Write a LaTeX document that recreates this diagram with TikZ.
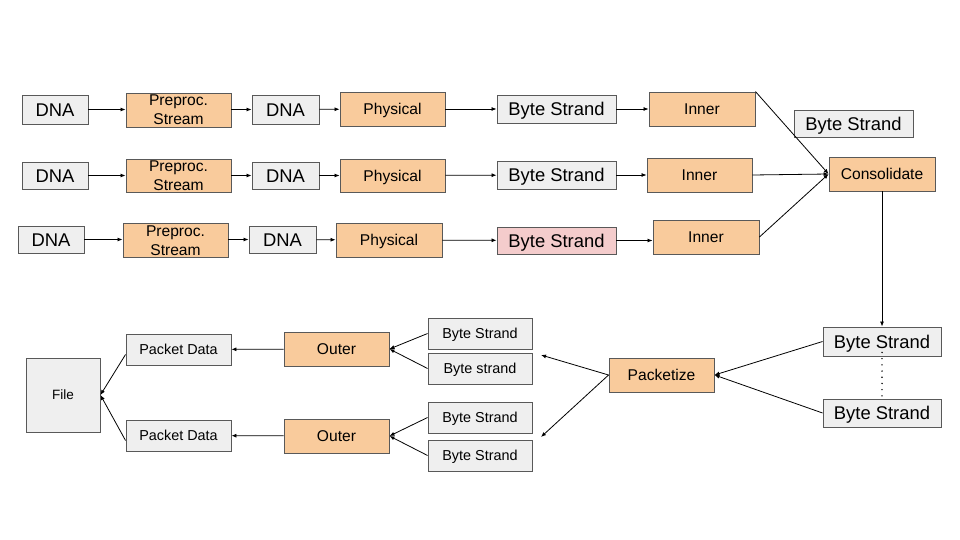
\documentclass[tikz,border=0pt]{standalone}
\usepackage{fontspec}
\setmainfont{Liberation Sans}
\usetikzlibrary{arrows.meta}
\definecolor{ofill}{HTML}{F9CB9C}
\definecolor{gfill}{HTML}{EFEFEF}
\definecolor{pfill}{HTML}{F4CCCC}
\definecolor{bcol}{HTML}{595959}
\begin{document}
\begin{tikzpicture}[x=1pt,y=-1pt,
  box/.style={draw=bcol, line width=0.9pt, inner sep=0pt, text=black, text depth=0pt},
  gbox/.style={box, fill=gfill},
  obox/.style={box, fill=ofill},
  pbox/.style={box, fill=pfill},
  twol/.style={align=center, text height=, text depth=},
  sz/.style 2 args={minimum width=#1pt, minimum height=#2pt},
  big/.style={font=\fontsize{18.4}{20}\selectfont, text height=13.2pt},
  mid/.style={font=\fontsize{15.6}{19}\selectfont, text height=11.2pt},
  sml/.style={font=\fontsize{14.4}{17}\selectfont, text height=10.3pt},
  arr/.style={-{Latex[length=5pt,width=4pt]}, line width=0.8pt},
]
\useasboundingbox[fill=white] (0,0) rectangle (960,540);

% Row 1
\node[gbox,big,sz={66}{29}] (dna1) at (55,109.5) {DNA};
\node[obox,mid,twol,sz={105}{34}] (pre1) at (178.5,110) {Preproc.\\Stream};
\node[gbox,big,sz={67}{29}] (dnb1) at (285.5,109.5) {DNA};
\node[obox,mid,sz={105}{34}] (phy1) at (392.5,109) {Physical};
\node[gbox,big,sz={119}{28}] (bs1) at (556.5,109) {Byte Strand};
\node[obox,mid,sz={106}{34}] (inn1) at (702,109) {Inner};
% Row 2
\node[gbox,big,sz={66}{27}] (dna2) at (55,175.5) {DNA};
\node[obox,mid,twol,sz={105}{33}] (pre2) at (178.5,176) {Preproc.\\Stream};
\node[gbox,big,sz={67}{27}] (dnb2) at (285.5,175.5) {DNA};
\node[obox,mid,sz={105}{33}] (phy2) at (392.5,175.5) {Physical};
\node[gbox,big,sz={119}{28}] (bs2) at (556.5,175) {Byte Strand};
\node[obox,mid,sz={105}{34}] (inn2) at (699.5,175) {Inner};
% Row 3
\node[gbox,big,sz={66}{27}] (dna3) at (51,239.5) {DNA};
\node[obox,mid,twol,sz={105}{34}] (pre3) at (175.5,240.5) {Preproc.\\Stream};
\node[gbox,big,sz={67}{27}] (dnb3) at (282.5,239.5) {DNA};
\node[obox,mid,sz={106}{34}] (phy3) at (389,240) {Physical};
\node[pbox,big,sz={119}{27}] (bs3) at (556.5,240.5) {Byte Strand};
\node[obox,mid,sz={106}{34}] (inn3) at (706,237) {Inner};

% Right column
\node[gbox,big,sz={119}{27}] (bstop) at (853.5,123.5) {Byte Strand};
\node[obox,mid,sz={106}{34}] (cons) at (882,174) {Consolidate};
\node[gbox,big,sz={118}{29}] (bsr1) at (882,341.5) {Byte Strand};
\node[gbox,big,sz={118}{28}] (bsr2) at (882,413) {Byte Strand};
\node[obox,mid,sz={105}{34}] (pack) at (661.5,375) {Packetize};

% Bottom
\node[gbox,sml,sz={104}{31}] (bsa) at (480,333.5) {Byte Strand};
\node[gbox,sml,sz={104}{31}] (bsb) at (480,368.5) {Byte strand};
\node[gbox,sml,sz={104}{31}] (bsc) at (480,417.5) {Byte Strand};
\node[gbox,sml,sz={104}{31}] (bsd) at (480,455.5) {Byte Strand};
\node[obox,mid,sz={105}{34}] (out1) at (336.5,349) {Outer};
\node[obox,mid,sz={105}{34}] (out2) at (336.5,436) {Outer};
\node[gbox,sml,sz={105}{31}] (pd1) at (178.5,349.5) {Packet Data};
\node[gbox,sml,sz={105}{31}] (pd2) at (178.5,435.5) {Packet Data};
\node[gbox,font=\fontsize{13.5}{16}\selectfont,text height=9.7pt,sz={74}{74}] (file) at (63,395) {File};

\coordinate (pu) at (541,355);
\coordinate (pl) at (541,437);

% Row arrows
\foreach \r in {1,2,3}{
  \draw[arr] (dna\r) -- (pre\r.west |- dna\r);
  \draw[arr] (pre\r.east |- dnb\r) -- (dnb\r);
  \draw[arr] (dnb\r) -- (phy\r);
  \draw[arr] (phy\r) -- (bs\r);
  \draw[arr] (bs\r) -- (inn\r.west |- bs\r);
}
\draw[arr] (inn1.north east) -- (cons.west);
\draw[arr] (inn2.east) -- (cons.west);
\draw[arr] (inn3.east) -- (cons.west);
\draw[arr] (cons.south) -- (bsr1.north);
\draw[line width=1.6pt, line cap=round, dash pattern=on 0pt off 6.2pt] ([yshift=4pt]bsr1.south) -- ([yshift=-3pt]bsr2.north);
\draw[arr] (bsr1.west) -- (pack.east);
\draw[arr] (bsr2.west) -- (pack.east);
\draw[arr] (pack.west) -- (pu);
\draw[arr] (pack.west) -- (pl);
\draw[arr] (bsa.west) -- (out1.east);
\draw[arr] (bsb.west) -- (out1.east);
\draw[arr] (bsc.west) -- (out2.east);
\draw[arr] (bsd.west) -- (out2.east);
\draw[arr] (out1) -- (pd1);
\draw[arr] (out2) -- (pd2);
\draw[arr] ([yshift=-5pt]pd1.west) -- (file.east);
\draw[arr] ([yshift=-5pt]pd2.west) -- (file.east);
\end{tikzpicture}
\end{document}
